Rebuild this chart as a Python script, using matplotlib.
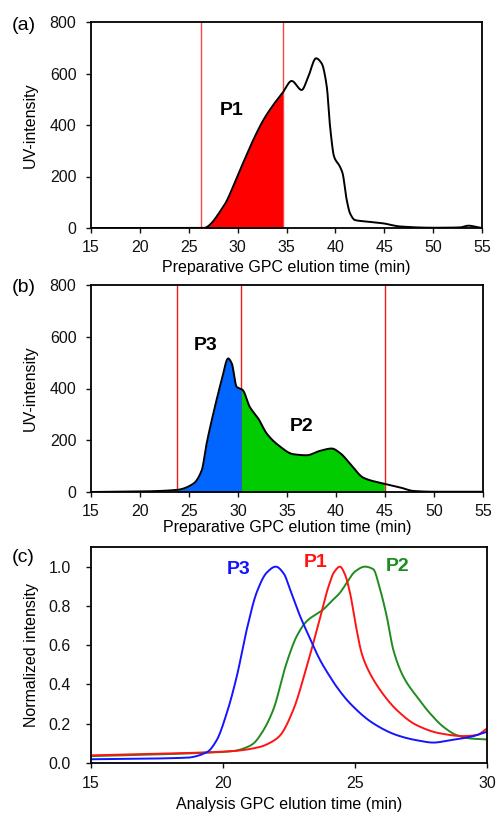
import numpy as np
import matplotlib
matplotlib.use("Agg")
import matplotlib.pyplot as plt

plt.rcParams['font.family'] = ['Liberation Sans', 'DejaVu Sans']

# Panel (a) preparative GPC trace
a_t = [15, 20, 26.5, 28.54, 30.24, 31.6, 32.63, 33.65, 34.6, 35.53, 36.55, 37.23, 38.02, 38.6,
       39.12, 39.46, 39.87, 40.47, 40.74, 41.16, 41.5, 42.0, 43.2, 44.9, 46.6, 50.0, 52.7,
       53.6, 54.8, 55]
a_y = [0, 0, 0, 83, 225, 342, 419, 478, 525, 571, 536, 588, 659, 639,
       549, 393, 277, 238, 212, 109, 57, 31, 25, 18, 6, 1, 2,
       9, 1, 0]
a_cuts = [26.24, 34.6]

# Panel (b) preparative GPC trace
b_t = [15, 20, 23.75, 25.44, 26.3, 26.8, 27.48, 28.33, 29.0, 29.36, 29.87, 30.2, 30.48, 31.2,
       32.07, 32.93, 34.11, 35.65, 37.0, 38.37, 39.56, 40.4, 41.43, 42.8, 44.9, 46.6,
       47.9, 50, 55]
b_y = [0, 2, 8, 32, 84, 187, 303, 432, 516, 497, 406, 400, 394, 329,
       284, 226, 181, 146, 142, 159, 168, 151, 110, 55, 32, 17,
       4, 1, 1]
b_cuts = [23.76, 30.33, 44.95]

# Panel (c) analysis GPC, normalized
p3_t = [15, 18.63, 19.4, 19.76, 20.14, 20.52, 20.9, 21.28, 21.66, 22.0, 22.3, 22.54, 22.92,
        23.17, 23.67, 24.05, 24.3, 24.81, 25.69, 26.58, 27.33, 27.97, 28.6, 29.36, 30]
p3_y = [0.019, 0.027, 0.056, 0.116, 0.253, 0.44, 0.68, 0.87, 0.97, 1.0, 0.965, 0.884, 0.748,
        0.671, 0.526, 0.44, 0.389, 0.304, 0.202, 0.142, 0.116, 0.104, 0.116, 0.133, 0.159]
p1_t = [15, 17.87, 20.4, 21.4, 21.9, 22.16, 22.66, 23.17, 23.62, 24.0, 24.2, 24.43, 24.62,
        24.81, 25.06, 25.25, 25.44, 25.95, 26.58, 27.33, 28.22, 29.1, 29.6, 30]
p1_y = [0.039, 0.048, 0.061, 0.082, 0.112, 0.14, 0.27, 0.49, 0.71, 0.9, 0.97, 1.0, 0.96,
        0.867, 0.68, 0.56, 0.491, 0.372, 0.27, 0.193, 0.151, 0.137, 0.142, 0.176]
p2_t = [15, 19.13, 20.4, 20.9, 21.15, 21.5, 21.9, 22.41, 22.79, 23.17, 23.8, 24.05, 24.43,
        24.69, 25.0, 25.38, 25.69, 25.95, 26.2, 26.45, 26.83, 27.34, 27.84, 28.35, 28.85,
        29.36, 30]
p2_y = [0.035, 0.051, 0.061, 0.08, 0.099, 0.16, 0.27, 0.51, 0.645, 0.722, 0.782, 0.816, 0.867,
        0.918, 0.975, 1.0, 0.987, 0.884, 0.748, 0.577, 0.44, 0.338, 0.253, 0.184, 0.142,
        0.125, 0.12]


def smooth(t, y, n=600):
    t = np.asarray(t, float)
    y = np.asarray(y, float)
    h = np.diff(t)
    d = np.diff(y) / h
    m = np.zeros_like(y)
    for i in range(1, len(y) - 1):
        if d[i - 1] * d[i] > 0:
            w1 = 2 * h[i] + h[i - 1]
            w2 = h[i] + 2 * h[i - 1]
            m[i] = (w1 + w2) / (w1 / d[i - 1] + w2 / d[i])
    m[0] = d[0]
    m[-1] = d[-1]
    tt = np.linspace(t[0], t[-1], n)
    idx = np.clip(np.searchsorted(t, tt) - 1, 0, len(t) - 2)
    s = (tt - t[idx]) / h[idx]
    h00 = 2 * s**3 - 3 * s**2 + 1
    h10 = s**3 - 2 * s**2 + s
    h01 = -2 * s**3 + 3 * s**2
    h11 = s**3 - s**2
    yy = h00 * y[idx] + h10 * h[idx] * m[idx] + h01 * y[idx + 1] + h11 * h[idx] * m[idx + 1]
    return tt, yy


fig = plt.figure(figsize=(4.98, 8.17), dpi=100)
W, H = 498, 817


def add_ax(l, r, t, b):
    return fig.add_axes([l / W, 1 - b / H, (r - l) / W, (b - t) / H])


ax_a = add_ax(91, 482, 22, 228)
ax_b = add_ax(91, 483, 285, 492)
ax_c = add_ax(91, 487, 547, 763)

fs = 11.5
for ax in (ax_a, ax_b, ax_c):
    for sp in ax.spines.values():
        sp.set_linewidth(1.3)
        sp.set_color('black')
    ax.tick_params(direction='out', length=3.5, width=1.0, labelsize=fs, colors='#111111')
    ax.tick_params(axis='x', pad=5)
    ax.tick_params(axis='y', pad=7)

# (a)
tt, yy = smooth(a_t, a_y, 2000)
yy = np.clip(yy, 0, None)
ax_a.plot(tt, yy, color='black', lw=1.4, zorder=3)
mask = (tt >= a_cuts[0]) & (tt <= a_cuts[1])
ax_a.fill_between(tt[mask], 0, yy[mask], color='#FF0000', lw=0, zorder=2)
for c in a_cuts:
    ax_a.axvline(c, color='#FF4444', lw=1.0, zorder=1)
ax_a.text(29.4, 457, 'P1', fontsize=14, fontweight='bold', ha='center', va='center')
ax_a.set_xlim(15, 55)
ax_a.set_ylim(0, 800)
ax_a.set_xticks(range(15, 56, 5))
ax_a.set_yticks(range(0, 801, 200))
ax_a.set_xlabel('Preparative GPC elution time (min)', fontsize=fs, va='top')
ax_a.set_ylabel('UV-intensity', fontsize=fs)
ax_a.xaxis.set_label_coords(0.5, -0.155)
ax_a.yaxis.set_label_coords(-0.137, 0.5)

# (b)
tt, yy = smooth(b_t, b_y, 2000)
yy = np.clip(yy, 0, None)
ax_b.plot(tt, yy, color='black', lw=1.4, zorder=3)
m1 = (tt >= b_cuts[0]) & (tt <= b_cuts[1])
m2 = (tt >= b_cuts[1]) & (tt <= b_cuts[2])
ax_b.fill_between(tt[m1], 0, yy[m1], color='#0066FF', lw=0, zorder=2)
ax_b.fill_between(tt[m2], 0, yy[m2], color='#00CC00', lw=0, zorder=2)
for c in b_cuts:
    ax_b.axvline(c, color='#E81E1E', lw=1.0, zorder=1)
ax_b.text(26.65, 568, 'P3', fontsize=14, fontweight='bold', ha='center', va='center')
ax_b.text(36.5, 254, 'P2', fontsize=14, fontweight='bold', ha='center', va='center')
ax_b.set_xlim(15, 55)
ax_b.set_ylim(0, 800)
ax_b.set_xticks(range(15, 56, 5))
ax_b.set_yticks(range(0, 801, 200))
ax_b.set_xlabel('Preparative GPC elution time (min)', fontsize=fs, va='top')
ax_b.set_ylabel('UV-intensity', fontsize=fs)
ax_b.xaxis.set_label_coords(0.5, -0.136)
ax_b.yaxis.set_label_coords(-0.137, 0.5)

# (c)
c_blue, c_red, c_green = '#1414FF', '#FF1414', '#1E8C1E'
for t, y, col in ((p2_t, p2_y, c_green), (p1_t, p1_y, c_red), (p3_t, p3_y, c_blue)):
    tt, yy = smooth(t, y, 1500)
    ax_c.plot(tt, yy, color=col, lw=1.4)
ax_c.text(20.59, 0.986, 'P3', fontsize=14, fontweight='bold', color=c_blue, ha='center', va='center')
ax_c.text(23.5, 1.02, 'P1', fontsize=14, fontweight='bold', color=c_red, ha='center', va='center')
ax_c.text(26.6, 1.0, 'P2', fontsize=14, fontweight='bold', color=c_green, ha='center', va='center')
ax_c.set_xlim(15, 30)
ax_c.set_ylim(0, 1.1)
ax_c.set_xticks(range(15, 31, 5))
ax_c.set_yticks([0, 0.2, 0.4, 0.6, 0.8, 1.0])
ax_c.set_yticklabels(['0.0', '0.2', '0.4', '0.6', '0.8', '1.0'])
ax_c.tick_params(axis='y', pad=11)
ax_c.tick_params(axis='x', pad=6)
ax_c.set_xlabel('Analysis GPC elution time (min)', fontsize=fs, va='top')
ax_c.set_ylabel('Normalized intensity', fontsize=fs)
ax_c.xaxis.set_label_coords(0.5, -0.157)
ax_c.yaxis.set_label_coords(-0.131, 0.5)

fig.text(12 / W, 1 - 25 / H, '(a)', fontsize=14, ha='left', va='center')
fig.text(12 / W, 1 - 287 / H, '(b)', fontsize=14, ha='left', va='center')
fig.text(12 / W, 1 - 558 / H, '(c)', fontsize=14, ha='left', va='center')

fig.savefig('out.png', dpi=100)
